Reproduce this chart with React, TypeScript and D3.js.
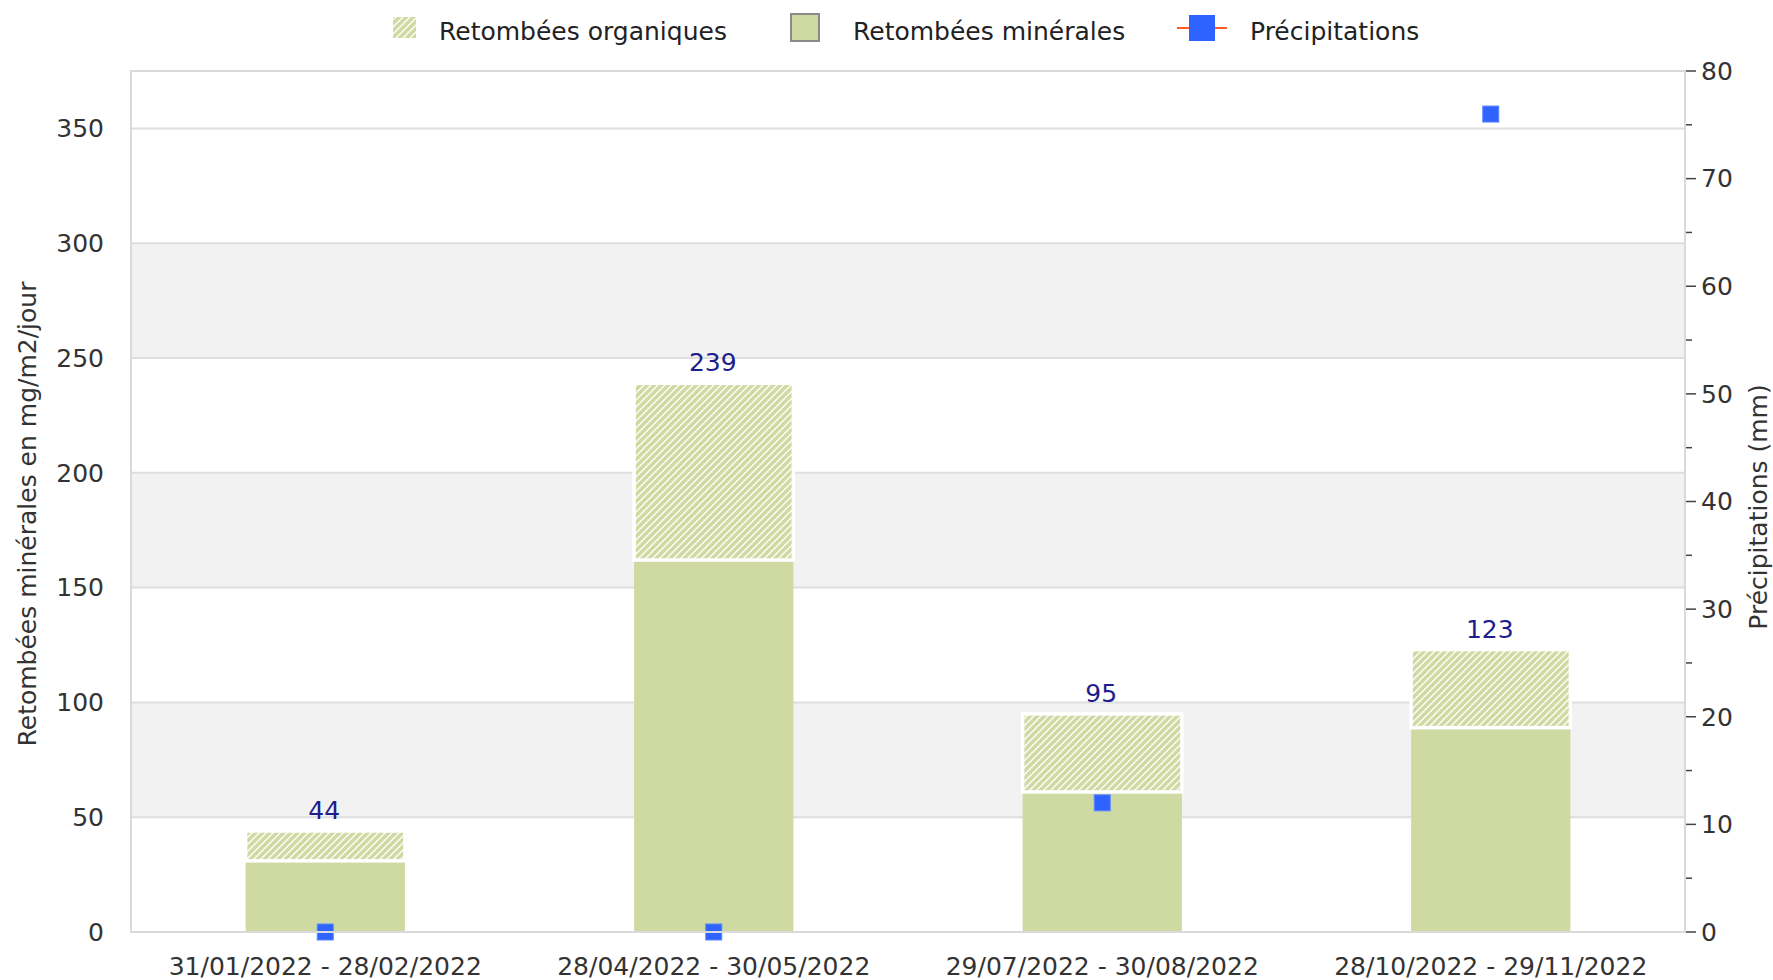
import React, { useEffect, useRef } from "react";
import * as d3 from "d3";

// periods (x categories)
const periods = [
  "31/01/2022 - 28/02/2022",
  "28/04/2022 - 30/05/2022",
  "29/07/2022 - 30/08/2022",
  "28/10/2022 - 29/11/2022",
];
// mg/m2/jour
const mineralValues = [31, 162, 61, 89];
const organicValues = [13, 77, 34, 34];
// mm
const precipitation = [0, 0, 12, 76];

const leftTicks = [0, 50, 100, 150, 200, 250, 300, 350];
const rightTicks = [0, 10, 20, 30, 40, 50, 60, 70, 80];
const rightMinorTicks = [5, 15, 25, 35, 45, 55, 65, 75];

const legendItems = ["Retombées organiques", "Retombées minérales", "Précipitations"];

const W = 1773;
const H = 980;
const green = "#cfdaa3";
const blue = "#2f63ff";
const FONT = "25px 'DejaVu Sans', sans-serif";

const App = () => {
  const ref = useRef<SVGSVGElement | null>(null);

  useEffect(() => {
    const svg = d3.select(ref.current);
    svg.selectAll("*").remove();

    const left = 131, right = 1685, top = 71, bottom = 932;

    const x = d3.scaleBand().domain(periods).range([left, right]).paddingInner(0.59).paddingOuter(0.295);
    const yL = d3.scaleLinear().domain([0, 375]).range([bottom, top]);
    const yR = d3.scaleLinear().domain([0, 80]).range([bottom, top]);

    const defs = svg.append("defs");
    const pat = defs
      .append("pattern")
      .attr("id", "hatch")
      .attr("patternUnits", "userSpaceOnUse")
      .attr("width", 7)
      .attr("height", 7);
    pat.append("rect").attr("width", 7).attr("height", 7).attr("fill", green);
    pat
      .append("path")
      .attr("d", "M-2,2 L2,-2 M0,7 L7,0 M5,9 L9,5")
      .attr("stroke", "#ffffff")
      .attr("stroke-width", 1.3);

    // plot background + alternating bands
    svg.append("rect").attr("x", left).attr("y", top).attr("width", right - left).attr("height", bottom - top).attr("fill", "#fff");
    const bands = [[50, 100], [150, 200], [250, 300]];
    svg
      .append("g")
      .selectAll("rect")
      .data(bands)
      .join("rect")
      .attr("x", left)
      .attr("width", right - left)
      .attr("y", (d) => yL(d[1]))
      .attr("height", (d) => yL(d[0]) - yL(d[1]))
      .attr("fill", "#f2f2f2");

    svg
      .append("g")
      .selectAll("line")
      .data(leftTicks.slice(1))
      .join("line")
      .attr("x1", left)
      .attr("x2", right)
      .attr("y1", (d) => yL(d))
      .attr("y2", (d) => yL(d))
      .attr("stroke", "#dedede")
      .attr("stroke-width", 2);

    // mineral bars
    svg
      .append("g")
      .selectAll("rect")
      .data(mineralValues)
      .join("rect")
      .attr("x", (d, i) => x(periods[i])!)
      .attr("width", x.bandwidth())
      .attr("y", (d) => yL(d))
      .attr("height", (d) => yL(0) - yL(d))
      .attr("fill", green);

    // organic bars, stacked
    svg
      .append("g")
      .selectAll("rect")
      .data(organicValues)
      .join("rect")
      .attr("x", (d, i) => x(periods[i])!)
      .attr("width", x.bandwidth())
      .attr("y", (d, i) => yL(mineralValues[i] + d))
      .attr("height", (d, i) => yL(mineralValues[i]) - yL(mineralValues[i] + d))
      .attr("fill", "url(#hatch)")
      .attr("stroke", "#fff")
      .attr("stroke-width", 3.5);

    // totals
    svg
      .append("g")
      .selectAll("text")
      .data(organicValues)
      .join("text")
      .attr("x", (d, i) => x(periods[i])! + x.bandwidth() / 2 - 1)
      .attr("y", (d, i) => yL(mineralValues[i] + d) - 12)
      .attr("text-anchor", "middle")
      .attr("fill", "#1d1d8e")
      .style("font", FONT)
      .text((d, i) => mineralValues[i] + d);

    // precipitation markers
    svg
      .append("g")
      .selectAll("rect")
      .data(precipitation)
      .join("rect")
      .attr("x", (d, i) => x(periods[i])! + x.bandwidth() / 2 - 8)
      .attr("y", (d) => yR(d) - 8)
      .attr("width", 16)
      .attr("height", 16)
      .attr("fill", blue)
      .attr("stroke", "#5b86ff")
      .attr("stroke-width", 1);

    // plot border
    svg
      .append("rect")
      .attr("x", left)
      .attr("y", top)
      .attr("width", right - left)
      .attr("height", bottom - top)
      .attr("fill", "none")
      .attr("stroke", "#dadada")
      .attr("stroke-width", 2);

    // left tick labels
    svg
      .append("g")
      .selectAll("text")
      .data(leftTicks)
      .join("text")
      .attr("x", 104)
      .attr("y", (d) => yL(d))
      .attr("dy", "0.35em")
      .attr("text-anchor", "end")
      .attr("fill", "#333")
      .style("font", FONT)
      .text((d) => d);

    // right axis ticks
    const ra = svg.append("g");
    ra.selectAll("line.maj")
      .data(rightTicks)
      .join("line")
      .attr("class", "maj")
      .attr("x1", right + 1)
      .attr("x2", right + 11)
      .attr("y1", (d) => yR(d))
      .attr("y2", (d) => yR(d))
      .attr("stroke", "#444")
      .attr("stroke-width", 1.5);
    ra.selectAll("line.min")
      .data(rightMinorTicks)
      .join("line")
      .attr("class", "min")
      .attr("x1", right + 1)
      .attr("x2", right + 7)
      .attr("y1", (d) => yR(d))
      .attr("y2", (d) => yR(d))
      .attr("stroke", "#444")
      .attr("stroke-width", 1.5);
    ra.selectAll("text")
      .data(rightTicks)
      .join("text")
      .attr("x", right + 16)
      .attr("y", (d) => yR(d))
      .attr("dy", "0.35em")
      .attr("fill", "#333")
      .style("font", FONT)
      .text((d) => d);

    // x labels
    svg
      .append("g")
      .selectAll("text")
      .data(periods)
      .join("text")
      .attr("x", (d) => x(d)! + x.bandwidth() / 2)
      .attr("y", 966)
      .attr("dy", "0.35em")
      .attr("text-anchor", "middle")
      .attr("fill", "#333")
      .style("font", FONT)
      .text((d) => d);

    // axis titles
    svg
      .append("text")
      .attr("transform", "translate(27,514) rotate(-90)")
      .attr("dy", "0.35em")
      .attr("text-anchor", "middle")
      .attr("fill", "#333")
      .style("font", FONT)
      .text("Retombées minérales en mg/m2/jour");
    svg
      .append("text")
      .attr("transform", "translate(1758,507) rotate(-90)")
      .attr("dy", "0.35em")
      .attr("text-anchor", "middle")
      .attr("fill", "#333")
      .style("font", FONT)
      .text("Précipitations (mm)");

    // legend
    const lg = svg.append("g");
    lg.append("rect").attr("x", 393).attr("y", 17).attr("width", 23).attr("height", 21).attr("fill", "url(#hatch)");
    lg.append("rect").attr("x", 791).attr("y", 14).attr("width", 28).attr("height", 27).attr("fill", green).attr("stroke", "#8a8a8a").attr("stroke-width", 2);
    lg.append("line").attr("x1", 1177).attr("x2", 1227).attr("y1", 28).attr("y2", 28).attr("stroke", "#ff5a2a").attr("stroke-width", 2);
    lg.append("rect").attr("x", 1189).attr("y", 15).attr("width", 26).attr("height", 26).attr("fill", blue);
    const legendX = [439, 853, 1250];
    lg.selectAll("text")
      .data(legendItems)
      .join("text")
      .attr("x", (d, i) => legendX[i])
      .attr("y", 31)
      .attr("dy", "0.35em")
      .attr("fill", "#222")
      .style("font", FONT)
      .text((d) => d);
  }, []);

  return (
    <div style={{ position: "absolute", left: 0, top: 0 }}>
      <svg ref={ref} width={W} height={H} style={{ display: "block", background: "#fff" }} />
    </div>
  );
};

export default App;
